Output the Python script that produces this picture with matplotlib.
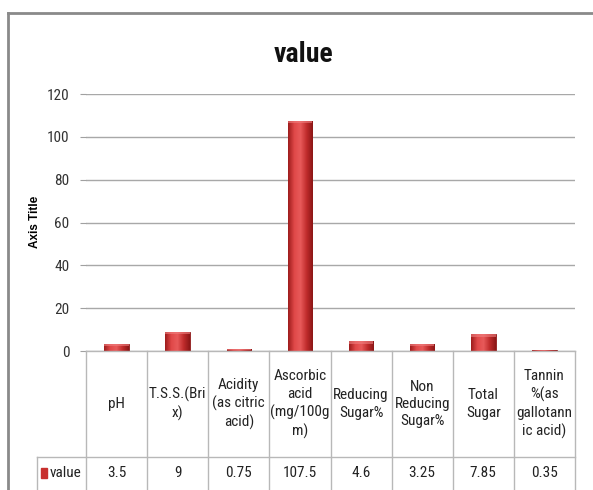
import numpy as np
import matplotlib
matplotlib.use("Agg")
import matplotlib.pyplot as plt
from matplotlib.colors import LinearSegmentedColormap
from matplotlib.lines import Line2D
from matplotlib.patches import Rectangle

# data
categories = ["pH", "T.S.S.(Bri\nx)", "Acidity\n(as citric\nacid)",
              "Ascorbic\nacid\n(mg/100g\nm)", "Reducing\nSugar%",
              "Non\nReducing\nSugar%", "Total\nSugar",
              "Tannin\n%(as\ngallotann\nic acid)"]
values = [3.5, 9, 0.75, 107.5, 4.6, 3.25, 7.85, 0.35]
value_labels = ["3.5", "9", "0.75", "107.5", "4.6", "3.25", "7.85", "0.35"]
series_name = "value"
yticks = [0, 20, 40, 60, 80, 100, 120]

plt.rcParams['font.family'] = ['Liberation Sans Narrow', 'DejaVu Sans Condensed',
                               'Roboto Condensed', 'Liberation Sans', 'DejaVu Sans']

W, H = 593, 490
fig = plt.figure(figsize=(W / 100, H / 100), dpi=100)

def fx(px):
    return px / W

def fy(py):
    return 1 - py / H

# outer chart frame
fig.add_artist(Line2D([fx(8), fx(593)], [fy(13), fy(13)], color="#8a8a8a", lw=2))
fig.add_artist(Line2D([fx(8), fx(8)], [fy(13), fy(490)], color="#8a8a8a", lw=2))

left, right, top, bottom = 86, 575, 94, 351
ax = fig.add_axes([fx(left), fy(bottom), fx(right - left), (bottom - top) / H])
n = len(values)
x = np.arange(n)
ax.set_yticks(yticks)
ax.set_yticklabels([str(t) for t in yticks], fontsize=11, color="#333333")
ax.set_xticks([])
ax.tick_params(axis="y", length=4, color="#a0a0a0", pad=8)
for s in ax.spines.values():
    s.set_visible(False)
ax.yaxis.grid(True, color="#a8a8a8", lw=1)
ax.set_axisbelow(True)

bars = ax.bar(x, values, width=0.4, color="#c8302e", edgecolor="#8c1a1a", lw=0.6, zorder=3)
cmap = LinearSegmentedColormap.from_list("bar", ["#9e1c1c", "#e04848", "#e85a5a", "#c02c2c", "#8c1616"])
grad = np.linspace(0, 1, 64).reshape(1, -1)
for b in bars:
    bx, bw, bh = b.get_x(), b.get_width(), b.get_height()
    im = ax.imshow(grad, cmap=cmap, extent=[bx, bx + bw, 0, bh], aspect="auto", zorder=4)
    im.set_clip_path(b)
    cap = min(1.2, bh * 0.3)
    ax.add_patch(Rectangle((bx, bh - cap), bw, cap, color="#f08080", alpha=0.6, zorder=5, lw=0))
ax.set_xlim(-0.5, n - 0.5)
ax.set_ylim(0, 120)

fig.text(fx(303), fy(55), "value", ha="center", va="center",
         fontsize=20, fontweight="bold", color="#111111")
fig.text(fx(35), fy(222), "Axis Title", rotation=90, ha="center", va="center",
         fontsize=8.5, fontweight="bold", family=["Liberation Sans", "DejaVu Sans"])

# data table below the axis
tab = fig.add_axes([fx(left), 0, fx(right - left), (H - bottom) / H])
tab.set_xlim(-0.5, n - 0.5)
tab.set_ylim(H - bottom, 0)
tab.axis("off")
row1 = 457 - bottom
row2 = 500 - bottom
lc = "#b8b8b8"
legend_left = -0.5 - (left - 37) / ((right - left) / n)
for xi in np.arange(n + 1) - 0.5:
    tab.plot([xi, xi], [0, row2], color=lc, lw=1, clip_on=False)
tab.plot([-0.5, n - 0.5], [0, 0], color=lc, lw=1, clip_on=False)
tab.plot([legend_left, n - 0.5], [row1, row1], color=lc, lw=1, clip_on=False)
tab.plot([legend_left, legend_left], [row1, row2], color=lc, lw=1, clip_on=False)
for i in range(n):
    tab.text(x[i], row1 / 2, categories[i], ha="center", va="center",
             fontsize=11, color="#222222", linespacing=1.3)
    tab.text(x[i], 473 - bottom, value_labels[i], ha="center", va="center",
             fontsize=11, color="#222222")
tab.add_patch(Rectangle((legend_left + 0.06, 468 - bottom), 0.11, 10, color="#c8302e", clip_on=False))
tab.text(legend_left + 0.2, 473 - bottom, series_name, ha="left", va="center",
         fontsize=11, color="#222222")

fig.savefig("out.png", dpi=100)
